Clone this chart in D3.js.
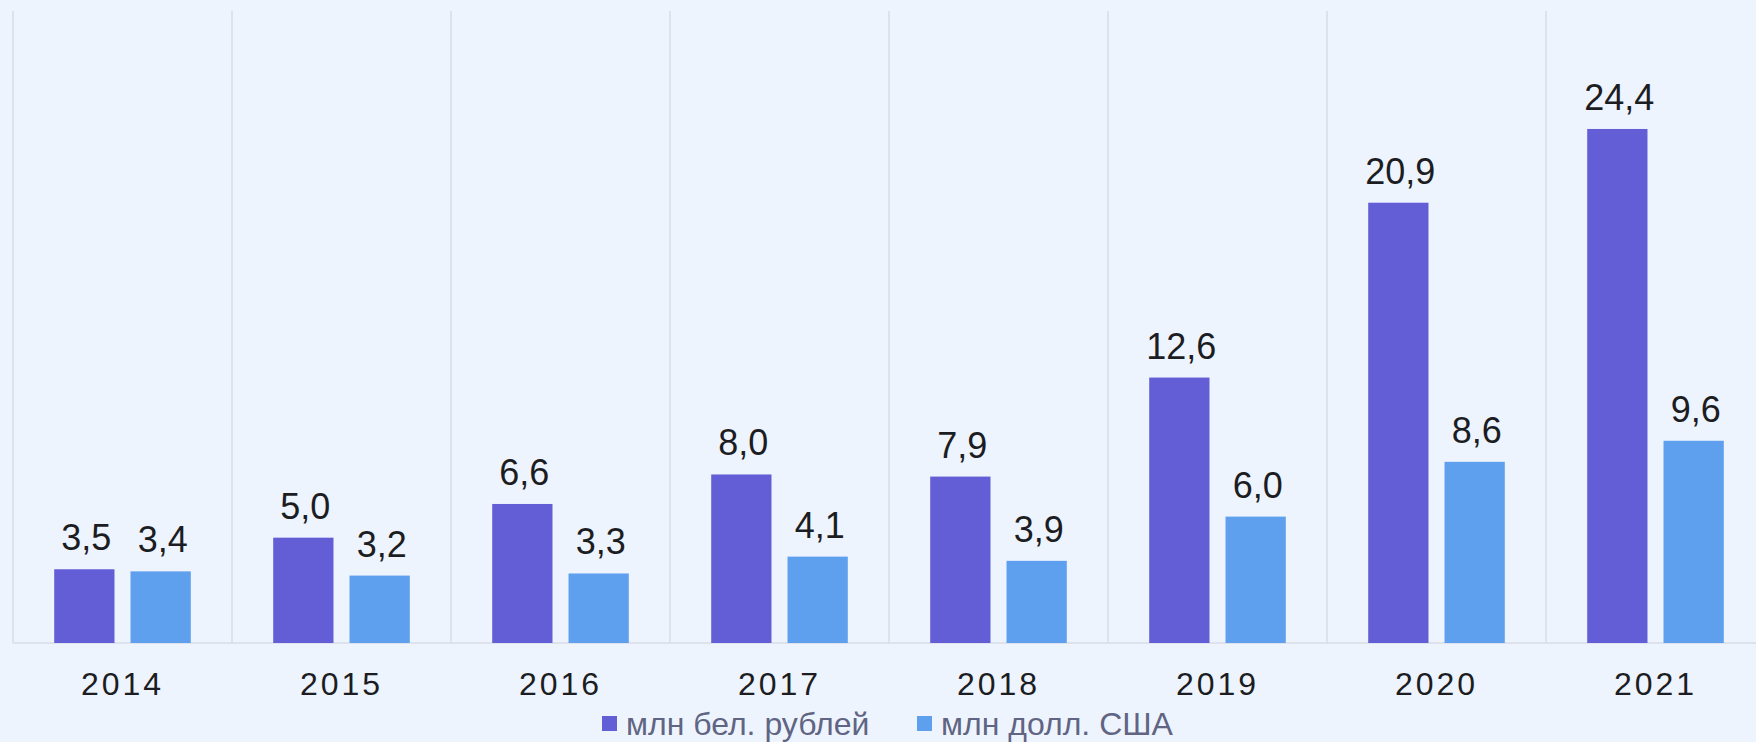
<html lang="ru">
<head>
<meta charset="utf-8">
<script src="https://d3js.org/d3.v7.min.js"></script>
<style>
  body { margin: 0; background: #eef4fe; overflow: hidden; }
  text { font-family: "Liberation Sans", Arial, sans-serif; }
</style>
</head>
<body>
<script>
// data
const years = ["2014", "2015", "2016", "2017", "2018", "2019", "2020", "2021"];
const rubles = [3.5, 5.0, 6.6, 8.0, 7.9, 12.6, 20.9, 24.4];
const dollars = [3.4, 3.2, 3.3, 4.1, 3.9, 6.0, 8.6, 9.6];
const seriesNames = ["млн бел. рублей", "млн долл. США"];
const seriesColors = ["#635ed6", "#5e9fee"];

const width = 1756, height = 742;
const plotLeft = 13, plotTop = 11, base = 643;
const step = 219;

const svg = d3.select("body").append("svg")
    .attr("width", width)
    .attr("height", height);

svg.append("rect").attr("width", width).attr("height", height).attr("fill", "#eef4fe");

// scales
const x0 = d3.scaleBand()
    .domain(years)
    .range([plotLeft, plotLeft + step * years.length])
    .padding(0);

const x1 = d3.scaleBand()
    .domain([0, 1])
    .range([0, x0.bandwidth()])
    .paddingInner(0.21)
    .paddingOuter(0.54);

const y = d3.scaleLinear()
    .domain([0, 30])
    .range([base, plotTop]);

// vertical grid lines between categories
const bounds = years.map(d => x0(d)).concat([x0.range()[1]]);
svg.append("g").selectAll("line")
    .data(bounds)
    .join("line")
    .attr("x1", d => d).attr("x2", d => d)
    .attr("y1", plotTop).attr("y2", base)
    .attr("stroke", "#d9dde7")
    .attr("stroke-width", 1.5);

// baseline
svg.append("line")
    .attr("x1", plotLeft).attr("x2", x0.range()[1])
    .attr("y1", base).attr("y2", base)
    .attr("stroke", "#d9dde7")
    .attr("stroke-width", 1.5);

// bars + labels
const rows = years.map((yr, i) => ({year: yr, vals: [rubles[i], dollars[i]]}));

const groups = svg.append("g").selectAll("g")
    .data(rows)
    .join("g")
    .attr("transform", d => `translate(${x0(d.year)},0)`);

groups.selectAll("rect")
    .data(d => d.vals.map((v, k) => ({v, k})))
    .join("rect")
    .attr("x", d => x1(d.k))
    .attr("y", d => y(d.v))
    .attr("width", x1.bandwidth())
    .attr("height", d => base - y(d.v))
    .attr("fill", d => seriesColors[d.k]);

groups.selectAll("text.val")
    .data(d => d.vals.map((v, k) => ({v, k})))
    .join("text")
    .attr("class", "val")
    .attr("x", d => x1(d.k) + x1.bandwidth() / 2 + 2)
    .attr("y", d => y(d.v) - 19)
    .attr("text-anchor", "middle")
    .attr("font-size", 36)
    .attr("fill", "#1c1d22")
    .text(d => d.v.toFixed(1).replace(".", ","));

// x axis labels
const xAxis = svg.append("g")
    .attr("transform", `translate(0,${base})`)
    .call(d3.axisBottom(x0).tickSize(0).tickPadding(52));
xAxis.select(".domain").remove();
xAxis.selectAll("text")
    .attr("font-size", 32)
    .attr("letter-spacing", "3px")
    .attr("fill", "#1c1d22")
    .attr("dy", 0)
    .attr("y", 52)
    .style("font-family", "'Liberation Sans', Arial, sans-serif");

// legend
const legendX = [602, 917];
const legend = svg.append("g").selectAll("g")
    .data(seriesNames)
    .join("g")
    .attr("transform", (d, i) => `translate(${legendX[i]},716)`);
legend.append("rect")
    .attr("width", 15).attr("height", 15)
    .attr("fill", (d, i) => seriesColors[i]);
legend.append("text")
    .attr("x", 24).attr("y", 19)
    .attr("font-size", 32)
    .attr("fill", "#5f6583")
    .text(d => d);
</script>
</body>
</html>
